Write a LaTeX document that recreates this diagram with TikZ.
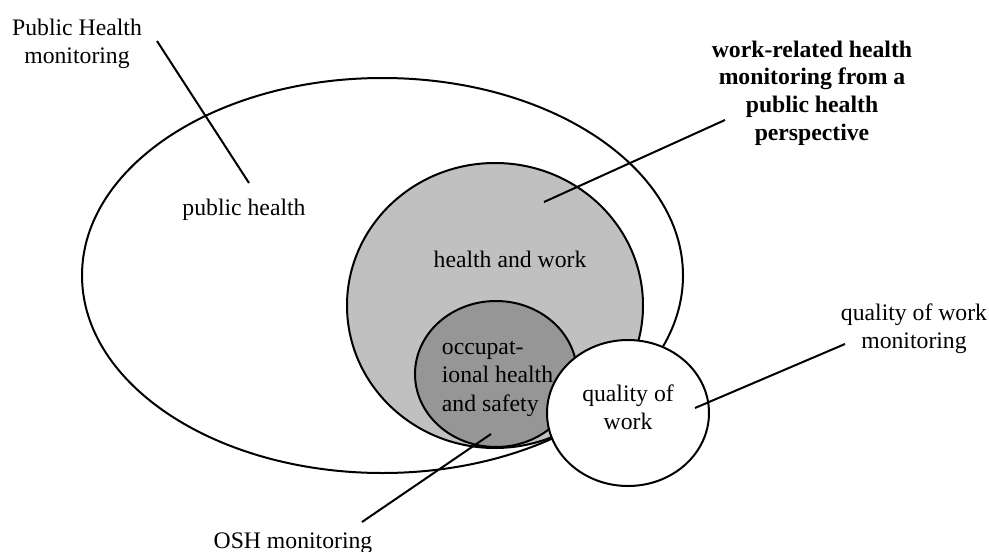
\documentclass[tikz,border=0pt]{standalone}
\usepackage{fontspec}
\setmainfont{Liberation Serif}
\usetikzlibrary{shapes.geometric}
\definecolor{hwgray}{RGB}{192,192,192}
\definecolor{oshgray}{RGB}{150,150,150}
\begin{document}
\begin{tikzpicture}[x=1pt, y=-1pt,
  area/.style={draw=black, line width=2pt, ellipse, inner sep=0pt, outer sep=0pt},
  leader/.style={draw=black, line width=2pt},
  lbl/.style={font=\fontsize{23.7pt}{28.3pt}\selectfont, inner sep=0pt, anchor=base, align=center},
  boldlbl/.style={lbl, font=\fontsize{23.7pt}{27.6pt}\selectfont\bfseries},
]
\useasboundingbox (0,0) rectangle (989,552);

% nested areas
\node[area, fill=white, minimum width=601pt, minimum height=395pt] (publichealth) at (382.5,275.5) {};
\node[area, fill=hwgray, minimum width=296pt, minimum height=285pt] (healthwork) at (495,305.5) {};
\node[area, fill=oshgray, minimum width=162pt, minimum height=146pt] (osh) at (496,374) {};
\node[area, fill=white, minimum width=162pt, minimum height=146pt] (qualitywork) at (628,413) {};

% area labels (multi-line nodes are placed by the baseline of their last line)
\node[lbl] (t-ph) at (244,215) {public health};
\node[lbl] (t-hw) at (510,267) {health and work};
\node[lbl, align=left, anchor=base west] (t-osh) at (441.7,411) {occupat-\\ional health\\and safety};
\node[lbl] (t-qw) at (628,429.5) {quality of\\work};

% monitoring labels
\node[lbl] (m-ph) at (77,63.3) {Public Health\\monitoring};
\node[boldlbl] (m-wr) at (812,140) {work-related health\\monitoring from a\\public health\\perspective};
\node[lbl] (m-qw) at (914,348.5) {quality of work\\monitoring};
\node[lbl] (m-osh) at (293,548) {OSH monitoring};

% leader lines
\coordinate (ph-a) at (157,41);   \coordinate (ph-b) at (249,183);
\coordinate (wr-a) at (725,120);  \coordinate (wr-b) at (544,202);
\coordinate (qw-a) at (845,344);  \coordinate (qw-b) at (695,408);
\coordinate (os-a) at (362,522);  \coordinate (os-b) at (491,434);
\draw[leader] (ph-a) -- (ph-b);
\draw[leader] (wr-a) -- (wr-b);
\draw[leader] (qw-a) -- (qw-b);
\draw[leader] (os-a) -- (os-b);
\end{tikzpicture}
\end{document}
